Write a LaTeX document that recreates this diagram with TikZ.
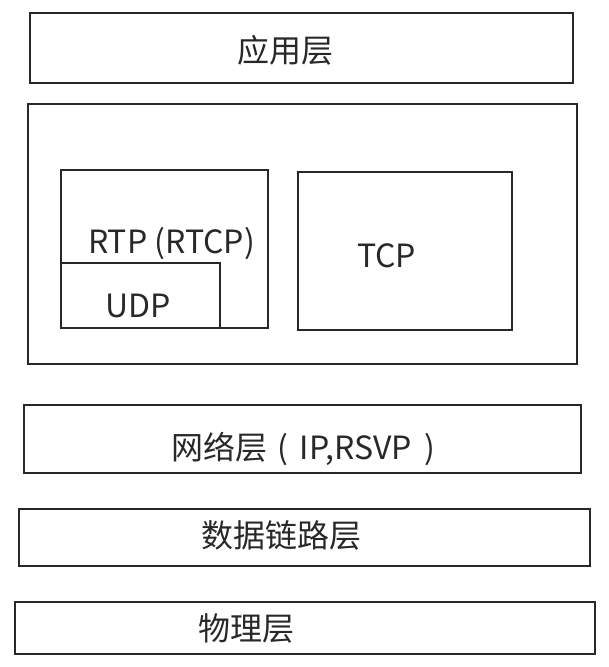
\documentclass[tikz,border=0pt]{standalone}
\usepackage{fontspec}
\setmainfont{Noto Sans CJK SC}
\usepackage{tikz}
\usetikzlibrary{positioning}
\definecolor{cL}{RGB}{40,40,40}

\begin{document}
\begin{tikzpicture}[x=1pt, y=-1pt, font=\fontsize{32}{38}\selectfont]

    \tikzstyle{layer} = [draw=cL, rectangle, line width=1.6pt, inner sep=0pt, outer sep=0pt]
    \tikzstyle{txt} = [anchor=base, inner sep=0pt, text=cL]

    \useasboundingbox (0,0) rectangle (609,667);

    % Application layer
    \node[layer, minimum width=543, minimum height=70] (app) at (301.5,48) {};
    \node[txt] (appT) at (285.5,62) {应用层};

    % Transport block
    \node[layer, minimum width=549, minimum height=260] (trans) at (302.5,234) {};
    \node[layer, minimum width=207, minimum height=158] (rtp) at (164.5,249) {};
    \node[layer, minimum width=159, minimum height=65] (udp) at (140.5,295.5) {};
    \node[layer, minimum width=214, minimum height=158] (tcp) at (405,251) {};
    \node[txt] (rtpT) at (171.5,253) {RTP (RTCP)};
    \node[txt] (udpT) at (138,317) {UDP};
    \node[txt] (tcpT) at (386.5,267) {TCP};

    % Network layer
    \node[layer, minimum width=557, minimum height=68] (net) at (302.5,439) {};
    \node[txt] (netT) at (303,459) {网络层\hspace{10pt}(\hspace{12pt}IP,RSVP\hspace{12pt})};

    % Data link layer
    \node[layer, minimum width=571, minimum height=57] (link) at (304.5,537.5) {};
    \node[txt] (linkT) at (281.5,547) {数据链路层};

    % Physical layer
    \node[layer, minimum width=580, minimum height=52] (phys) at (305,628) {};
    \node[txt] (physT) at (246.5,640) {物理层};
\end{tikzpicture}
\end{document}
